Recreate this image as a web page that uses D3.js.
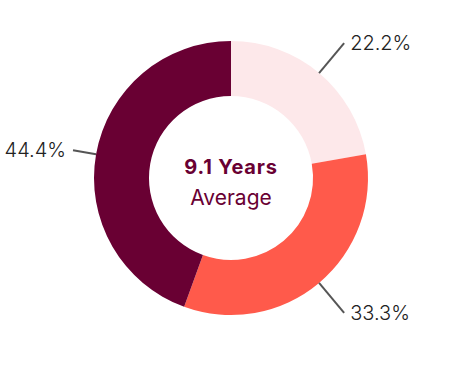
<!DOCTYPE html>
<html>
<head>
<meta charset="utf-8">
<script src="https://cdn.jsdelivr.net/npm/d3@7"></script>
<style>
  body { margin: 0; background: #fff; }
  svg { font-family: Inter, sans-serif; }
</style>
</head>
<body>
<div id="canvas"></div>
<script>
let labels = ['22.2%', '33.3%', '44.4%'];
let values = [22.2, 33.3, 44.4];
let colors = ['#fde8ea', '#ff5a4b', '#690033'];

let width = 462, height = 374;
let cx = 231, cy = 178;
let outerR = 137, innerR = 82;

let svg = d3.select('#canvas').append('svg')
  .attr('width', width)
  .attr('height', height);

let g = svg.append('g').attr('transform', `translate(${cx},${cy})`);

let pie = d3.pie().sort(null).value(d => d);
let arcs = pie(values);

let arc = d3.arc().innerRadius(innerR).outerRadius(outerR);

g.selectAll('path')
  .data(arcs)
  .enter()
  .append('path')
  .attr('d', arc)
  .attr('fill', (d, i) => colors[i]);

// leader lines + labels
function mid(d) { return (d.startAngle + d.endAngle) / 2; }

arcs.forEach(function(d, i) {
  let a = mid(d);
  let x0 = Math.sin(a) * outerR, y0 = -Math.cos(a) * outerR;
  let x1 = Math.sin(a) * 176, y1 = -Math.cos(a) * 176;
  let right = x1 > 0;
  if (!right && x1 < -158) {
    // keep left label on screen
    let t = -158 / x1;
    x1 = -158; y1 = y1 * t;
  }
  g.append('line')
    .attr('x1', x0).attr('y1', y0)
    .attr('x2', x1).attr('y2', y1)
    .attr('stroke', '#555')
    .attr('stroke-width', 2);
  g.append('text')
    .attr('x', right ? x1 + 6 : x1 - 7)
    .attr('y', y1)
    .attr('dy', '0.36em')
    .attr('text-anchor', right ? 'start' : 'end')
    .attr('font-size', 20)
    .attr('font-weight', 300)
    .attr('fill', '#222')
    .text(labels[i]);
});

g.append('text')
  .attr('y', -4)
  .attr('text-anchor', 'middle')
  .attr('font-size', 20)
  .attr('font-weight', 700)
  .attr('letter-spacing', 0.8)
  .attr('fill', '#690033')
  .text('9.1 Years');

g.append('text')
  .attr('y', 27)
  .attr('text-anchor', 'middle')
  .attr('font-size', 21)
  .attr('font-weight', 400)
  .attr('fill', '#690033')
  .text('Average');
</script>
</body>
</html>
